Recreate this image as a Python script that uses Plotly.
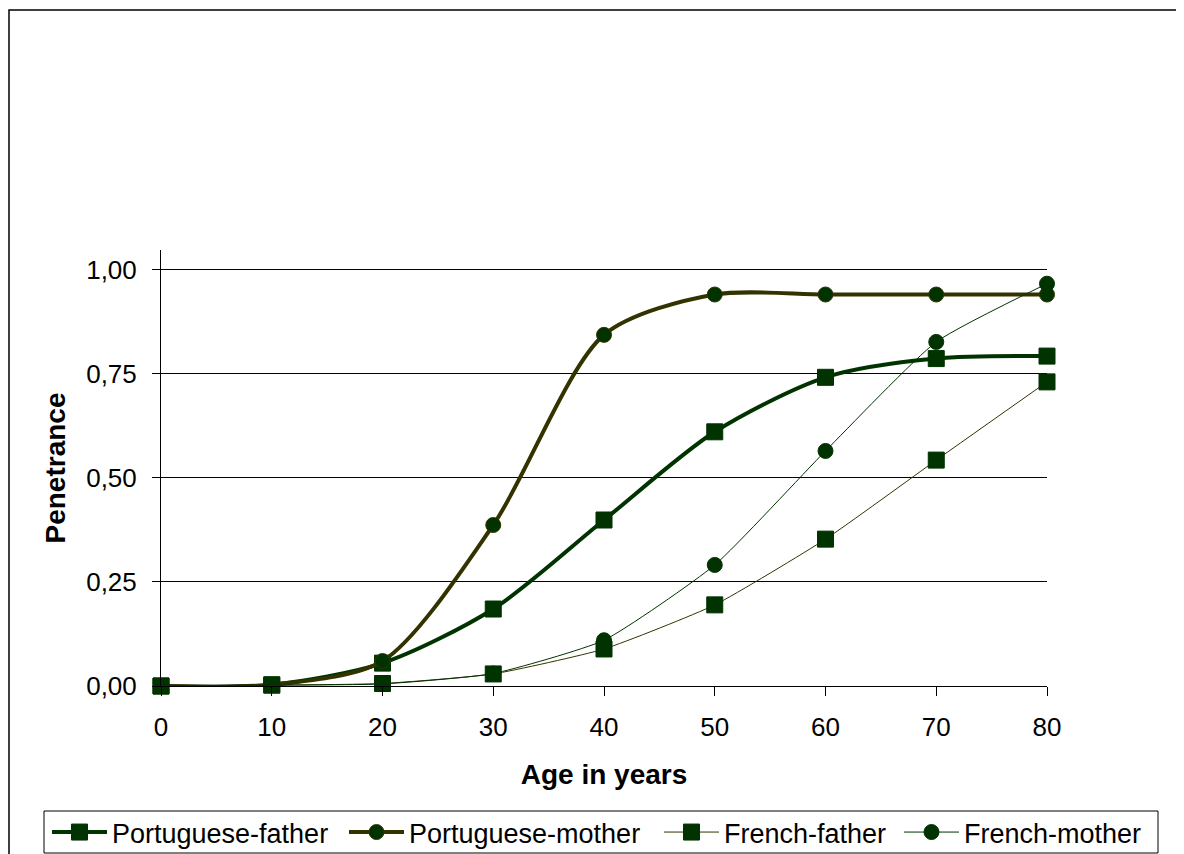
import plotly.graph_objects as go

ages = [0, 10, 20, 30, 40, 50, 60, 70, 80]
portuguese_father = [0.0, 0.003, 0.055, 0.185, 0.399, 0.611, 0.742, 0.787, 0.793]
portuguese_mother = [0.0, 0.003, 0.060, 0.387, 0.844, 0.941, 0.941, 0.941, 0.941]
french_father = [0.0, 0.002, 0.006, 0.029, 0.089, 0.195, 0.353, 0.543, 0.731]
french_mother = [0.0, 0.002, 0.005, 0.030, 0.110, 0.291, 0.565, 0.827, 0.967]
y_ticks = [0, 0.25, 0.5, 0.75, 1.0]
x_ticks = [0, 10, 20, 30, 40, 50, 60, 70, 80]

DG = "#003300"
OL = "#333300"
FONT = "Liberation Sans, Arial, sans-serif"

fig = go.Figure()
fig.add_trace(go.Scatter(x=ages, y=portuguese_father, name="Portuguese-father", legend="legend",
                         mode="lines+markers", line=dict(color=DG, width=4, shape="spline", smoothing=0.8),
                         marker=dict(symbol="square", size=16, color=DG, line=dict(color=DG, width=1)),
                         cliponaxis=False))
fig.add_trace(go.Scatter(x=ages, y=portuguese_mother, name="Portuguese-mother", legend="legend2",
                         mode="lines+markers", line=dict(color=OL, width=4, shape="spline", smoothing=0.8),
                         marker=dict(symbol="circle", size=15, color=DG, line=dict(color=OL, width=1)),
                         cliponaxis=False))
fig.add_trace(go.Scatter(x=ages, y=french_father, name="French-father", legend="legend3",
                         mode="lines+markers", line=dict(color=OL, width=1, shape="spline", smoothing=0.5),
                         marker=dict(symbol="square", size=16, color=DG, line=dict(color=DG, width=1)),
                         cliponaxis=False))
fig.add_trace(go.Scatter(x=ages, y=french_mother, name="French-mother", legend="legend4",
                         mode="lines+markers", line=dict(color=DG, width=1, shape="spline", smoothing=0.5),
                         marker=dict(symbol="circle", size=15, color=DG, line=dict(color=DG, width=1)),
                         cliponaxis=False))

# page has an 8px body margin; compensate
OFF = 8
W, H = 1184 - OFF, 854 - OFF
L, R, T, B = 161 - OFF, 1047 - OFF, 250 - OFF, 686 - OFF
pw, ph = R - L, B - T

def px(xp):
    return (xp - OFF - L) / pw

def py(yp):
    return (B - (yp - OFF)) / ph

# outer chart border
fig.add_shape(type="rect", xref="paper", yref="paper",
              x0=px(9), x1=px(1200), y0=py(10), y1=py(870),
              line=dict(color="black", width=1.5), fillcolor="rgba(0,0,0,0)", layer="below")
# legend box
fig.add_shape(type="rect", xref="paper", yref="paper",
              x0=px(44), x1=px(1158), y0=py(811), y1=py(853),
              line=dict(color="black", width=1), fillcolor="white", layer="below")

def leg(xpix):
    return dict(orientation="h", x=px(xpix), y=py(808), xanchor="left", yanchor="top",
                borderwidth=0, bgcolor="rgba(0,0,0,0)",
                font=dict(family=FONT, size=27, color="black"), itemwidth=55)

fig.update_layout(
    width=W, height=H,
    margin=dict(l=L, r=W - R, t=T, b=H - B, pad=0, autoexpand=False),
    paper_bgcolor="white", plot_bgcolor="white",
    separators=",.",
    font=dict(family=FONT, size=26, color="black"),
    showlegend=True,
    legend=leg(47), legend2=leg(344), legend3=leg(659), legend4=leg(899),
    xaxis=dict(range=[0, 80], tickvals=x_ticks, ticks="outside", ticklen=9, tickcolor="black",
               ticklabelstandoff=9,
               showline=True, linecolor="black", linewidth=1, showgrid=False, zeroline=False,
               tickfont=dict(size=26), title=dict(text="<b>Age in years</b>", font=dict(size=28), standoff=23)),
    yaxis=dict(range=[0, 1.048], tickvals=y_ticks, tickformat=".2f", ticks="outside", ticklen=8,
               ticklabelstandoff=10,
               tickcolor="black", showline=True, linecolor="black", linewidth=1,
               showgrid=True, gridcolor="black", gridwidth=1, zeroline=False,
               tickfont=dict(size=26), title=dict(text="<b>Penetrance</b>", font=dict(size=28), standoff=12)),
)

fig.write_html("out.html")
